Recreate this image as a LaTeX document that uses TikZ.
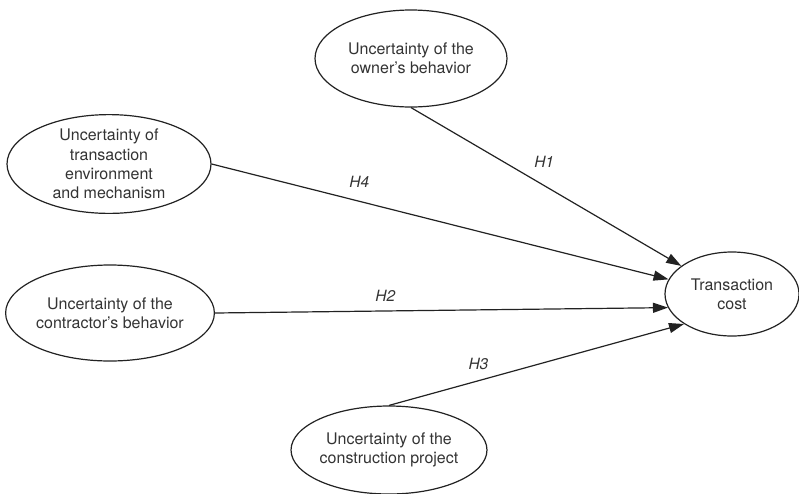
\documentclass[tikz,border=0pt]{standalone}
\usepackage{fontspec}
\setmainfont{TeX Gyre Heros}
\usetikzlibrary{shapes.geometric,arrows.meta}
\definecolor{ink}{HTML}{222222}
\definecolor{txt}{HTML}{333333}
\tikzset{
  construct/.style={draw=ink, line width=1.2pt, ellipse, inner sep=0pt, align=center,
    text=txt, font=\fontsize{16}{19.3}\selectfont},
  path/.style={draw=ink, line width=1.2pt, -{Triangle[length=15pt,width=10pt]}},
  hyp/.style={text=txt, inner sep=0pt, font=\fontsize{15.5}{18}\selectfont\itshape}
}
\begin{document}
\begin{tikzpicture}[x=1pt,y=-1pt]
\useasboundingbox (0,0) rectangle (799,493);
\node[construct, minimum width=192pt, minimum height=97pt] (own) at (411,58.5) {Uncertainty of the\\owner's behavior};
\node[construct, minimum width=204pt, minimum height=92pt] (env) at (109,164) {Uncertainty of\\transaction\\environment\\and mechanism};
\node[construct, minimum width=206pt, minimum height=96pt] (con) at (110,313) {Uncertainty of the\\contractor's behavior};
\node[construct, minimum width=194pt, minimum height=88pt] (prj) at (389,450) {Uncertainty of the\\construction project};
\node[construct, minimum width=134pt, minimum height=84pt] (tc) at (732,294) {Transaction\\cost};
\draw[path] (own.south) -- node[hyp, pos=0.454, shift={(10.5pt,17.6pt)}] (h1) {H1} (tc.151.6);
\draw[path] (env.east) -- node[hyp, pos=0.313, shift={(4.7pt,18.4pt)}] (h4) {H4} (tc.167.7);
\draw[path] (con.east) -- node[hyp, pos=0.376, shift={(0pt,14.7pt)}] (h2) {H2} (tc.192.2);
\draw[path] (prj.north) -- node[hyp, pos=0.318, shift={(-4.4pt,15.6pt)}] (h3) {H3} (tc.212.5);
\end{tikzpicture}
\end{document}
